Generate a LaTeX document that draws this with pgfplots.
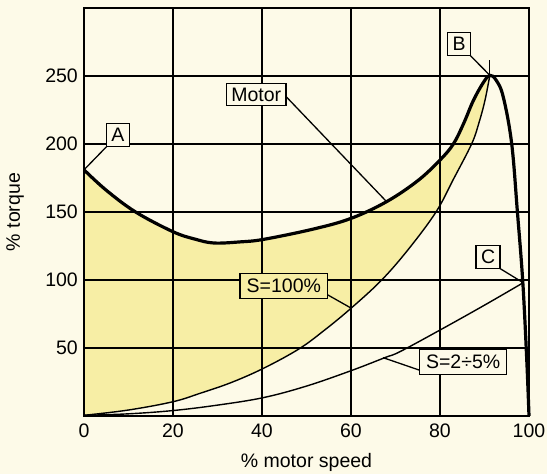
\documentclass[border=0pt]{standalone}
\usepackage{pgfplots}
\pgfplotsset{compat=1.18}
\usepackage{fontspec}
\setmainfont{Liberation Sans}
\definecolor{bgc}{RGB}{253,250,232}
\definecolor{fillc}{RGB}{247,238,165}
\newcommand{\bigf}{\fontsize{19.5bp}{23bp}\selectfont}
\begin{document}
\begin{tikzpicture}
\fill[bgc] (-84bp,-58bp) rectangle (463bp,416bp);
\begin{axis}[
  at={(0,0)}, anchor=south west,
  scale only axis, width=445bp, height=408bp,
  xmin=0, xmax=100, ymin=0, ymax=300,
  xtick={0,20,40,60,80,100}, ytick={50,100,150,200,250},
  grid=major, major grid style={black, line width=1.8bp},
  axis line style={black, line width=1.8bp},
  major tick length=0pt,
  axis on top, clip=false,
  /pgf/number format/assume math mode=true,
  tick label style={font=\bigf},
  xticklabel style={inner sep=0pt, yshift=-8bp},
  yticklabel style={inner sep=0pt, xshift=-6bp},
  label style={font=\bigf},
  xlabel={\% motor speed}, ylabel={\% torque},
  xlabel style={at={(rel axis cs:0.5,-0.1127)}, anchor=center},
  ylabel style={at={(rel axis cs:-0.155,0.5)}, anchor=center},
]
% filled region between motor torque and S=100% load curve
\addplot[fill=fillc, draw=none, smooth, tension=0.6] coordinates {
 (0,181) (5,166) (11.6,150) (20,135.5) (25,130) (29.2,127.2) (35,128) (40.4,129.9)
 (51.6,137.5) (60,145.3) (68,157.6) (75,173) (80,188.2) (83,200) (85.3,215) (87.5,232)
 (89.8,245.5) (91.2,250.5)
 (90.1,232) (88.7,215) (87.1,200) (83,174) (79.1,150) (73,123) (66.9,100) (60,79.2) (54,63)
 (48.3,49.3) (40.3,35) (33,24.5) (26.1,16.7) (20,10.5) (10,4.4) (0,0.5)
} -- cycle;
% S=100%
\addplot[black, line width=1.4bp, smooth, tension=0.6] coordinates {
 (0,0.5) (10,4.4) (20,10.5) (26.1,16.7) (33,24.5) (40.3,35) (48.3,49.3) (54,63)
 (60,79.2) (66.9,100) (73,123) (79.1,150) (83,174) (87.1,200) (88.7,215) (90.1,232) (91.2,250.5)
};
% S=2-5%
\addplot[black, line width=1.4bp, smooth, tension=0.6] coordinates {
 (0,0.5) (10,1.6) (20,4) (30,8) (40.3,13.5) (50,22) (60,33.3) (67.6,42.9)
 (71,47.3) (80,63.2) (90,81.5) (98.7,98)
};
% motor torque
\addplot[black, line width=3.2bp, smooth, tension=0.6] coordinates {
 (0,181) (5,166) (11.6,150) (20,135.5) (25,130) (29.2,127.2) (35,128) (40.4,129.9)
 (51.6,137.5) (60,145.3) (68,157.6) (75,173) (80,188.2) (83,200) (85.3,215) (87.5,232)
 (89.8,245.5) (91.2,250.5) (92.6,247) (94.2,234.8) (96.1,200.5) (97.4,149.8)
 (98.6,98.8) (99.5,41) (100,0)
};
\draw[black, line width=1.2bp] (axis cs:91.2,250) -- (axis cs:91.2,262);
% label anchors
\coordinate (A) at (axis cs:7.64,206.6);
\coordinate (A1) at (axis cs:5.2,198.5);
\coordinate (A2) at (axis cs:0,181);
\coordinate (B) at (axis cs:84.3,273.5);
\coordinate (B1) at (axis cs:86.7,265.4);
\coordinate (B2) at (axis cs:91.2,250.5);
\coordinate (C) at (axis cs:90.8,116.9);
\coordinate (C1) at (axis cs:93.3,108.8);
\coordinate (C2) at (axis cs:98.7,98);
\coordinate (M) at (axis cs:38.7,236.4);
\coordinate (M1) at (axis cs:45.4,234.9);
\coordinate (M2) at (axis cs:68,157.6);
\coordinate (S) at (axis cs:44.9,95.6);
\coordinate (S1) at (axis cs:54.8,89.0);
\coordinate (S2) at (axis cs:60.1,79.2);
\coordinate (T) at (axis cs:85.2,39.7);
\coordinate (T1) at (axis cs:75.3,33.8);
\coordinate (T2) at (axis cs:67.2,42.9);
\end{axis}
\tikzset{lbl/.style={draw=black, line width=1.4bp, font=\bigf, inner xsep=5bp, inner ysep=4bp, text height=14bp, text depth=0.5bp}}
\draw[line width=1.3bp] (A1) -- (A2);
\draw[line width=1.3bp] (B1) -- (B2);
\draw[line width=1.3bp] (C1) -- (C2);
\draw[line width=1.3bp] (M1) -- (M2);
\draw[line width=1.3bp] (S1) -- (S2);
\draw[line width=1.3bp] (T1) -- (T2);
\node[lbl, fill=bgc] at (A) {A};
\node[lbl, fill=bgc] at (B) {B};
\node[lbl, fill=bgc] at (C) {C};
\node[lbl, fill=bgc] at (M) {Motor};
\node[lbl, fill=fillc, inner xsep=6.5bp, inner ysep=5bp] at (S) {S=100\%};
\node[lbl, fill=bgc, inner xsep=6.5bp, inner ysep=5bp] at (T) {S=2÷5\%};
\end{tikzpicture}
\end{document}
